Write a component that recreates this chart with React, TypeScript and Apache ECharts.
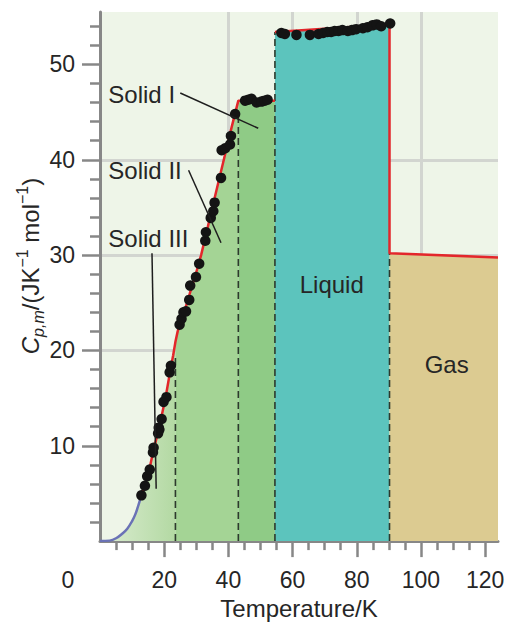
import React, { useEffect, useRef } from 'react';
import * as echarts from 'echarts';

// ---- data ----
const blueCurve: number[][] = [[0, 0], [3, 0.05], [5, 0.3], [7, 0.8], [8.5, 1.3], [10, 2.1], [11, 2.8], [12, 3.8], [12.9, 4.8]];
const solidIIICurve: number[][] = [[12.9, 4.8], [14, 5.9], [15.5, 7.7], [16.7, 9.6], [18.3, 11.7], [19.5, 13.6], [20.5, 15.2], [21.8, 17.7], [22.8, 19.5], [23.5, 20.9]];
const solidIICurve: number[][] = [[23.5, 20.9], [24.2, 22.0], [25, 22.9], [26.5, 24.3], [28, 26.0], [30, 28.2], [31.5, 30.0], [33, 32.1], [35, 35.0], [37, 37.8], [39, 40.6], [41, 43.4], [43.1, 46.2]];
const solidICurve: number[][] = [[43.1, 46.2], [54.5, 46.2]];
const liquidCurve: number[][] = [[54.5, 53.4], [90.2, 54.2]];
const gasCurve: number[][] = [[90.2, 30.2], [124, 29.76]];
const transitionTemps: number[] = [23.5, 43.1, 54.5, 90.2];
const transitionTops: number[] = [19.6, 45.0, 53.4, 30.2];

const solidIIIPoints: number[][] = [[12.9, 4.8], [14.0, 5.8], [14.7, 6.8], [15.5, 7.5], [16.5, 9.3], [16.7, 9.8], [18.1, 11.3], [18.5, 11.7], [18.3, 11.9], [19.2, 12.8], [19.8, 14.6], [20.7, 15.1], [21.7, 17.7], [22.1, 18.4]];
const solidIIPoints: number[][] = [[24.8, 22.7], [25.4, 23.3], [26.0, 24.0], [26.8, 24.1], [27.8, 25.3], [28.1, 26.8], [29.9, 27.7], [30.9, 29.1], [32.8, 31.5], [33.0, 32.4], [34.5, 33.9], [35.3, 34.6], [35.7, 35.5], [37.7, 38.1], [37.9, 41.0], [39.0, 41.2], [40.5, 41.6], [40.8, 42.5], [42.1, 44.8]];
const solidIPoints: number[][] = [[45.2, 46.2], [46.2, 46.3], [47.2, 46.4], [48.8, 46.0], [50.3, 46.1], [51.3, 46.2], [52.2, 46.3]];
const liquidPoints: number[][] = [[56.5, 53.3], [57.6, 53.2], [61.2, 53.1], [65.4, 53.1], [68.1, 53.2], [69.5, 53.3], [70.8, 53.4], [72.0, 53.4], [73.1, 53.5], [74.3, 53.5], [75.5, 53.6], [77.2, 53.5], [78.5, 53.6], [79.8, 53.7], [81.9, 53.8], [83.3, 53.9], [84.9, 54.1], [86.2, 54.2], [87.6, 54.0], [90.4, 54.3]];

const xMajorTicks: number[] = [20, 40, 60, 80, 100, 120];
const xMinorTicks: number[] = [5, 10, 15, 25, 30, 35, 45, 50, 55, 65, 70, 75, 85, 90, 95, 105, 110, 115];
const yMajorTicks: number[] = [10, 20, 30, 40, 50];
const yMinorTicks: number[] = [2, 4, 6, 8, 12, 14, 16, 18, 22, 24, 26, 28, 32, 34, 36, 38, 42, 44, 46, 48, 52, 54];

const phaseNames: string[] = ['Solid I', 'Solid II', 'Solid III', 'Liquid', 'Gas'];

// annotation anchors in data coordinates
const labelAnchors: number[][] = [[2.6, 46.8], [2.6, 38.9], [2.6, 31.7], [72.2, 26.9], [108, 18.5]];
const leaderLines: number[][][] = [
  [[25.0, 47.0], [49.3, 43.3]],
  [[27.6, 38.9], [37.7, 31.3]],
  [[16.2, 30.2], [17.5, 5.5]],
];

const FONT = "'Liberation Sans', Arial, Helvetica, sans-serif";
const AXIS_GRAY = '#878787';
const TEXT = '#262626';

export default function App() {
  const ref = useRef<HTMLDivElement>(null);

  useEffect(() => {
    if (!ref.current) return;
    const chart = echarts.init(ref.current, undefined, { renderer: 'svg' });

    const areaSeries = (data: number[][], color: any) => ({
      type: 'line',
      data,
      symbol: 'none',
      lineStyle: { width: 0 },
      areaStyle: { color, opacity: 1 },
      z: 1,
      silent: true,
    });

    const dashed = transitionTemps.map((t, i) => ({
      type: 'line',
      data: [[t, 0], [t, transitionTops[i]]],
      symbol: 'none',
      lineStyle: { color: '#2d3a2d', width: 1.6, type: [7, 4] },
      z: 3,
      silent: true,
    }));

    const redMain = [...solidIIICurve, ...solidIICurve.slice(1), ...solidICurve.slice(1)];
    const redLiquidGas = [...liquidCurve, ...gasCurve];

    chart.setOption({
      animation: false,
      backgroundColor: '#ffffff',
      grid: { left: 100, right: 11, top: 12, bottom: 80, show: true, backgroundColor: '#eef5e8', borderWidth: 0 },
      xAxis: [
        {
          type: 'value', min: 0, max: 124, interval: 20, position: 'bottom',
          axisLine: { show: true, onZero: false, lineStyle: { color: AXIS_GRAY, width: 3 } },
          axisTick: { show: true, customValues: xMajorTicks, length: 16, lineStyle: { color: AXIS_GRAY, width: 2.5 } },
          axisLabel: { show: true, customValues: xMajorTicks, margin: 27, fontSize: 23, color: TEXT, fontFamily: FONT },
          splitLine: { show: true, showMinLine: false, showMaxLine: false, lineStyle: { color: '#d2d5d0', width: 3 } },
          name: 'Temperature/K', nameLocation: 'middle', nameGap: 49,
          nameTextStyle: { fontSize: 24, color: TEXT, fontFamily: FONT },
        },
        {
          type: 'value', min: 0, max: 124, position: 'bottom',
          axisLine: { show: false, onZero: false },
          axisTick: { show: true, customValues: xMinorTicks, length: 9, lineStyle: { color: AXIS_GRAY, width: 2.5 } },
          axisLabel: { show: false },
          splitLine: { show: false },
        },
      ],
      yAxis: [
        {
          type: 'value', min: 0, max: 55.5, interval: 10, position: 'left',
          axisLine: { show: true, onZero: false, lineStyle: { color: AXIS_GRAY, width: 3 } },
          axisTick: { show: true, customValues: yMajorTicks, length: 18, lineStyle: { color: AXIS_GRAY, width: 2.5 } },
          axisLabel: { show: true, customValues: yMajorTicks, margin: 25, fontSize: 23, color: TEXT, fontFamily: FONT },
          splitLine: { show: true, showMinLine: false, showMaxLine: false, lineStyle: { color: '#d2d5d0', width: 3 } },
        },
        {
          type: 'value', min: 0, max: 55.5, position: 'left',
          axisLine: { show: false, onZero: false },
          axisTick: { show: true, customValues: yMinorTicks, length: 10, lineStyle: { color: AXIS_GRAY, width: 2.5 } },
          axisLabel: { show: false },
          splitLine: { show: false },
        },
      ],
      series: [
        areaSeries([...blueCurve, ...solidIIICurve.slice(1)], {
          type: 'linear', x: 0, y: 0, x2: 1, y2: 0,
          colorStops: [{ offset: 0, color: '#dcedd2' }, { offset: 1, color: '#b3d9a3' }],
        }),
        areaSeries(solidIICurve, '#a4d495'),
        areaSeries(solidICurve, '#8fcb86'),
        areaSeries(liquidCurve, '#5cc4bd'),
        areaSeries(gasCurve, '#dccb91'),
        ...dashed,
        {
          type: 'line', data: blueCurve, symbol: 'none', smooth: 0.4,
          lineStyle: { color: '#6a72b6', width: 2.5 }, z: 4, silent: true,
        },
        {
          type: 'line', data: redMain, symbol: 'none',
          lineStyle: { color: '#e3262b', width: 2.5 }, z: 4, silent: true,
        },
        {
          type: 'line', data: redLiquidGas, symbol: 'none',
          lineStyle: { color: '#e3262b', width: 2.5 }, z: 4, silent: true,
        },
        {
          type: 'scatter',
          data: [...solidIIIPoints, ...solidIIPoints, ...solidIPoints, ...liquidPoints],
          symbol: 'circle', symbolSize: 10.5,
          itemStyle: { color: '#141414', opacity: 1 },
          z: 5, silent: true,
        },
      ],
    });

    const px = (p: number[]) => chart.convertToPixel({ xAxisIndex: 0, yAxisIndex: 0 }, p) as number[];
    const graphics: any[] = [];

    phaseNames.forEach((name, i) => {
      const p = px(labelAnchors[i]);
      const centered = i >= 3;
      graphics.push({
        type: 'text', x: p[0], y: p[1], z: 100, silent: true,
        style: {
          text: name, fill: TEXT, fontSize: 24, fontFamily: FONT,
          align: centered ? 'center' : 'left', verticalAlign: 'middle',
        },
      });
    });

    leaderLines.forEach((seg) => {
      const a = px(seg[0]);
      const b = px(seg[1]);
      graphics.push({
        type: 'line', z: 100, silent: true,
        shape: { x1: a[0], y1: a[1], x2: b[0], y2: b[1] },
        style: { stroke: '#1e1e1e', lineWidth: 1.5 },
      });
    });

    const origin = px([0, 0]);
    graphics.push({
      type: 'text', x: origin[0] - 32, y: origin[1] + 39, z: 100, silent: true,
      style: { text: '0', fill: TEXT, fontSize: 23, fontFamily: FONT, align: 'center', verticalAlign: 'middle' },
    });

    graphics.push({
      type: 'text', x: 30, y: 266, rotation: Math.PI / 2, z: 100, silent: true,
      style: {
        text: '{ci|C}{sub|p,m}{n|/(JK}{sup|−1}{n| mol}{sup|−1}{n|)}',
        fill: TEXT, fontFamily: FONT, fontSize: 24,
        align: 'center', verticalAlign: 'middle',
        rich: {
          n: { fontSize: 24, lineHeight: 32, fontFamily: FONT, fill: TEXT },
          ci: { fontSize: 24, lineHeight: 32, fontStyle: 'italic', fontFamily: FONT, fill: TEXT },
          sub: { fontSize: 16, lineHeight: 16, fontStyle: 'italic', fontFamily: FONT, verticalAlign: 'bottom', fill: TEXT },
          sup: { fontSize: 16, lineHeight: 16, fontFamily: FONT, verticalAlign: 'top', fill: TEXT },
        },
      },
    });

    chart.setOption({ graphic: { elements: graphics } });

    return () => chart.dispose();
  }, []);

  return <div ref={ref} style={{ position: 'absolute', left: 0, top: 0, width: 509, height: 625 }} />;
}
